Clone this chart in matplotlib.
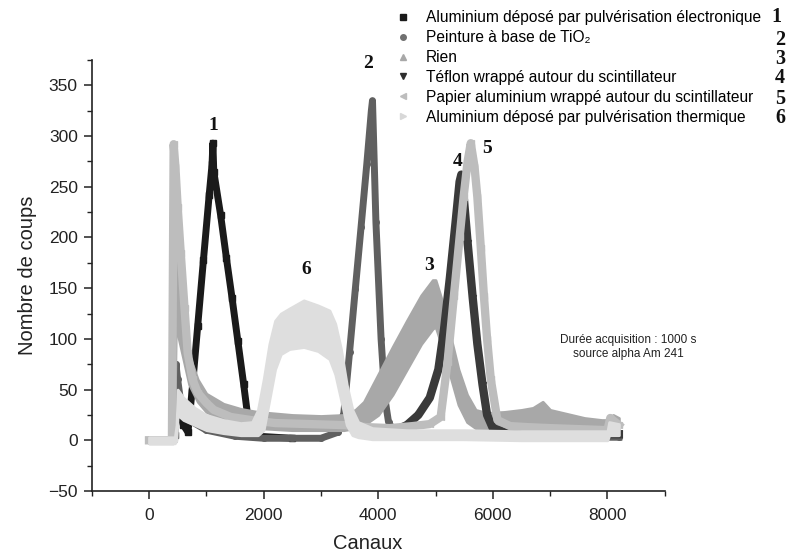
import matplotlib
matplotlib.use('Agg')
import matplotlib.pyplot as plt
from matplotlib.lines import Line2D
from matplotlib.ticker import MultipleLocator

plt.rcParams['font.family'] = ['Liberation Sans', 'DejaVu Sans']

# Spectres (canal, nombre de coups)
x1 = [450, 500, 600, 680, 750, 850, 950, 1050, 1100, 1115, 1130, 1250, 1350, 1450, 1550, 1650, 1720, 1800, 1900, 2500]
y1 = [5, 40, 15, 8, 48, 113, 178, 242, 272, 293, 265, 222, 180, 140, 98, 56, 25, 12, 4, 2]

x2 = [0, 440, 470, 500, 560, 700, 1000, 1500, 2000, 2500, 3000, 3300, 3400, 3500, 3600, 3700, 3800, 3880, 3900,
      3960, 4050, 4120, 4180, 4300, 5000, 6000, 7000, 8200]
y2 = [0, 0, 75, 60, 35, 20, 10, 4, 2, 2, 2, 8, 27, 87, 149, 210, 272, 325, 335, 215, 100, 40, 18, 6, 3, 3, 3, 3]

# "Rien" : bande de points (bord haut / bord bas)
x3 = [0, 420, 440, 470, 520, 600, 700, 850, 1000, 1300, 1600, 1900, 2500, 3000, 3400, 3600, 3750, 4000, 4250,
      4500, 4750, 4950, 5000, 5100, 5250, 5400, 5550, 5700, 5900, 6200, 6500, 6700, 6870, 7000, 7300, 7600,
      7900, 8000, 8100, 8200]
y3_hi = [3, 3, 275, 225, 165, 120, 84, 60, 46, 36, 31, 28, 25, 24, 25, 30, 38, 65, 92, 118, 143, 158, 158, 140,
         105, 70, 45, 30, 27, 28, 30, 32, 38, 30, 26, 22, 20, 20, 25, 22]
y3_lo = [-3, -3, 0, 120, 100, 80, 55, 38, 28, 20, 15, 12, 10, 10, 10, 12, 15, 25, 45, 70, 95, 110, 112, 95, 65,
         35, 18, 12, 10, 12, 13, 14, 15, 13, 11, 10, 8, 8, 10, 8]

x4 = [3700, 3900, 4100, 4300, 4500, 4700, 4900, 5050, 5150, 5250, 5350, 5420, 5450, 5500, 5560, 5650, 5730,
      5820, 5900, 6000, 6200, 6600, 7000, 8200]
y4 = [12, 8, 6, 10, 15, 25, 42, 70, 110, 160, 215, 255, 262, 235, 195, 140, 95, 55, 25, 12, 8, 6, 6, 6]

x5 = [0, 400, 430, 460, 500, 553, 620, 675, 760, 850, 1000, 1130, 1426, 1775, 2200, 2800, 3400, 3800, 4200,
      4600, 4900, 5090, 5210, 5320, 5420, 5490, 5560, 5615, 5680, 5730, 5790, 5845, 5900, 5965, 6080, 6300,
      6600, 7000, 7500, 8000, 8050, 8200]
y5 = [0, 0, 292, 270, 230, 185, 130, 86, 60, 47, 37, 30, 23, 20, 17, 16, 15, 13, 12, 14, 16, 23, 77, 142, 200,
      240, 275, 293, 270, 240, 190, 142, 100, 60, 20, 14, 13, 12, 11, 10, 22, 15]

# "Aluminium thermique" : bande de points (bord haut / bord bas)
x6 = [0, 450, 480, 500, 600, 800, 1000, 1300, 1600, 1800, 1900, 2000, 2100, 2200, 2300, 2450, 2700, 2950, 3150,
      3250, 3350, 3450, 3550, 3650, 3900, 4500, 5500, 6500, 7500, 8000, 8030, 8200]
y6_hi = [3, 3, 15, 50, 42, 32, 25, 20, 17, 18, 30, 60, 95, 118, 125, 130, 138, 133, 128, 115, 90, 55, 30, 18, 12,
         10, 10, 9, 9, 9, 18, 16]
y6_lo = [-3, -3, 0, 25, 20, 15, 10, 7, 5, 5, 5, 10, 40, 70, 85, 90, 92, 88, 80, 65, 40, 15, 5, 3, 1, 1, 1, 0, 0,
         0, 5, 5]

labels = ['Aluminium déposé par pulvérisation électronique',
          'Peinture à base de TiO₂',
          'Rien',
          'Téflon wrappé autour du scintillateur',
          'Papier aluminium wrappé autour du scintillateur',
          'Aluminium déposé par pulvérisation thermique']
numbers = ['1', '2', '3', '4', '5', '6']
colors = ['#1a1a1a', '#606060', '#a8a8a8', '#3a3a3a', '#bdbdbd', '#dedede']
legend_colors = ['#1a1a1a', '#707070', '#a8a8a8', '#2e2e2e', '#bdbdbd', '#d8d8d8']
markers = ['s', 'o', '^', 'v', '<', '>']

# positions des numéros de pics (canal, coups)
peak_x = [1120, 3820, 4880, 5380, 5900, 2750]
peak_y = [310, 372, 172, 275, 288, 168]

fig = plt.figure(figsize=(7.92, 5.6), dpi=100)
ax = fig.add_axes([0.1158, 0.1232, 0.7235, 0.7696])

ax.plot(x1, y1, color=colors[0], lw=5, marker='s', ms=4, solid_joinstyle='round', zorder=2)
ax.plot(x2, y2, color=colors[1], lw=5, marker='o', ms=4, solid_joinstyle='round', zorder=2)
ax.fill_between(x3, y3_lo, y3_hi, color=colors[2], lw=2, edgecolor=colors[2], zorder=2)
ax.plot(x4, y4, color=colors[3], lw=6, marker='v', ms=4, solid_joinstyle='round', zorder=2)
ax.plot(x5, y5, color=colors[4], lw=6, marker='<', ms=4, solid_joinstyle='round', zorder=2)
ax.fill_between(x6, y6_lo, y6_hi, color=colors[5], lw=2, edgecolor=colors[5], zorder=2)

for n, px, py in zip(numbers, peak_x, peak_y):
    ax.text(px, py, n, ha='center', va='center', fontsize=14, fontweight='bold',
            family=['Liberation Serif', 'DejaVu Serif'], color='#111111', clip_on=False)

ax.text(8360, 92, 'Durée acquisition : 1000 s\nsource alpha Am 241', ha='center', va='center',
        fontsize=8.5, color='#222222', linespacing=1.3)

ax.set_xlim(-1000, 9000)
ax.set_ylim(-50, 375)
ax.xaxis.set_major_locator(MultipleLocator(2000))
ax.xaxis.set_minor_locator(MultipleLocator(1000))
ax.yaxis.set_major_locator(MultipleLocator(50))
ax.yaxis.set_minor_locator(MultipleLocator(25))
ax.set_xticks([0, 2000, 4000, 6000, 8000])
ax.tick_params(which='major', length=6, width=1.1, labelsize=12.5, colors='#222222', pad=4)
ax.tick_params(axis='x', which='major', pad=6)
ax.tick_params(which='minor', length=3.5, width=1.0, colors='#222222')
for s in ['top', 'right']:
    ax.spines[s].set_visible(False)
for s in ['left', 'bottom']:
    ax.spines[s].set_linewidth(1.2)
    ax.spines[s].set_color('#222222')

ax.set_xlabel('Canaux', fontsize=14.5, color='#222222', labelpad=12)
ax.xaxis.set_label_coords(0.482, -0.1)
ax.set_ylabel('Nombre de coups', fontsize=14.5, color='#222222', labelpad=8)

handles = [Line2D([], [], ls='none', marker=m, color=c, ms=4) for m, c in zip(markers, legend_colors)]
fig.legend(handles, labels, loc='upper left', bbox_to_anchor=(396 / 792, 1 - 10 / 560),
           frameon=False, fontsize=11.2, handlelength=0.9, handletextpad=1.0,
           labelspacing=0.32, borderpad=0, borderaxespad=0)

num_x = [776, 780, 780, 780, 780, 780]
num_y = [17, 40, 59, 78, 99, 118]
for n, nx, ny in zip(numbers, num_x, num_y):
    fig.text(nx / 792, 1 - ny / 560, n, ha='center', va='center', fontsize=14.5, fontweight='bold',
             family=['Liberation Serif', 'DejaVu Serif'], color='#111111')

plt.savefig('out.png', dpi=100)
plt.close()
